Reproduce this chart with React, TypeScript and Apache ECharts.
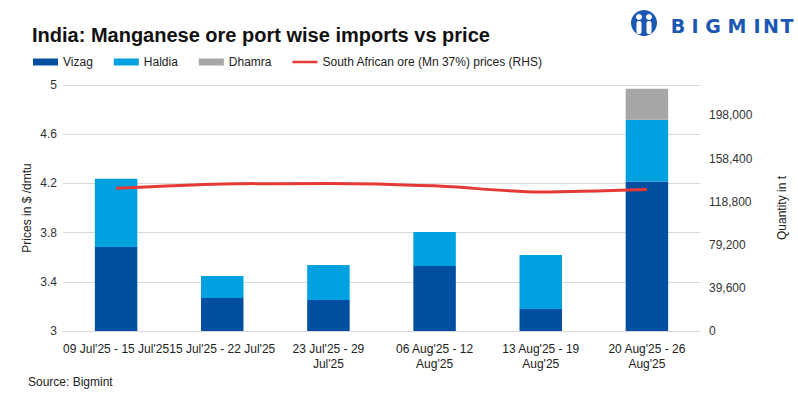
import React, { useEffect, useRef } from "react";
import * as echarts from "echarts";

const categories = [
  "09 Jul'25 - 15 Jul'25",
  "15 Jul'25 - 22 Jul'25",
  "23 Jul'25 - 29\nJul'25",
  "06 Aug'25 - 12\nAug'25",
  "13 Aug'25 - 19\nAug'25",
  "20 Aug'25 - 26\nAug'25",
];
const vizag = [77200, 30300, 28500, 59800, 20200, 137300];
const haldia = [62600, 20300, 32200, 31200, 49700, 56700];
const dhamra = [0, 0, 0, 0, 0, 28500];
const saPrice = [4.16, 4.195, 4.2, 4.18, 4.13, 4.15];

const FONT = "Liberation Sans";
const logoLetters = ["B", "I", "G", "M", "I", "N", "T"];

export default function App() {
  const ref = useRef<HTMLDivElement>(null);
  useEffect(() => {
    const chart = echarts.init(ref.current!, null, { renderer: "svg" });
    const logoBlue = "#1b57b3";
    chart.setOption({
      animation: false,
      textStyle: { fontFamily: FONT },
      title: {
        text: "India: Manganese ore port wise imports vs price",
        left: 27,
        top: 20,
        textStyle: { fontFamily: FONT, fontSize: 20, fontWeight: "bold", color: "#111" },
      },
      legend: {
        left: 28,
        top: 51,
        itemWidth: 25,
        itemHeight: 7,
        itemGap: 21,
        textStyle: { fontSize: 12, color: "#222", fontFamily: FONT },
        data: [
          { name: "Vizag", icon: "rect" },
          { name: "Haldia", icon: "rect" },
          { name: "Dhamra", icon: "rect" },
          {
            name: "South African ore (Mn 37%) prices (RHS)",
            icon: "path://M0,0L1,0L1,0.001ZM0,2L28,2L28,5L0,5ZM0,7L1,7L1,7.001Z",
          },
        ],
      },
      grid: { left: 63, right: 98, top: 85, bottom: 66 },
      xAxis: {
        type: "category",
        data: categories,
        axisLine: { lineStyle: { color: "#d9d9d9" } },
        axisTick: { show: false },
        axisLabel: { color: "#222", fontSize: 12, margin: 10, interval: 0, lineHeight: 15 },
      },
      yAxis: [
        {
          type: "value",
          min: 3,
          max: 5,
          interval: 0.4,
          name: "Prices in $ /dmtu",
          nameLocation: "middle",
          nameGap: 30,
          nameMoveOverlap: false,
          nameTextStyle: { fontSize: 12, color: "#222" },
          axisLine: { show: false },
          axisTick: { show: false },
          axisLabel: { color: "#333", fontSize: 12, margin: 6, formatter: (v: number) => String(+v.toFixed(1)) },
          splitLine: { lineStyle: { color: "#d9d9d9" } },
        },
        {
          type: "value",
          min: 0,
          max: 226000,
          interval: 39600,
          name: "Quantity in t",
          nameLocation: "middle",
          nameGap: 76,
          nameMoveOverlap: false,
          nameTextStyle: { fontSize: 12, color: "#222" },
          axisLine: { show: false },
          axisTick: { show: false },
          splitLine: { show: false },
          axisLabel: {
            color: "#333",
            fontSize: 12,
            margin: 9,
            formatter: (v: number) => (v > 200000 ? "" : v.toLocaleString("en-US")),
          },
        },
      ],
      series: [
        { name: "Vizag", type: "bar", stack: "q", yAxisIndex: 1, barWidth: "40%", data: vizag, itemStyle: { color: "#004fa0" } },
        { name: "Haldia", type: "bar", stack: "q", yAxisIndex: 1, data: haldia, itemStyle: { color: "#00a1e0" } },
        { name: "Dhamra", type: "bar", stack: "q", yAxisIndex: 1, data: dhamra, itemStyle: { color: "#a6a6a6" } },
        {
          name: "South African ore (Mn 37%) prices (RHS)",
          type: "line",
          yAxisIndex: 0,
          data: saPrice,
          symbol: "none",
          smooth: 0.3,
          z: 10,
          lineStyle: { color: "#e53935", width: 3 },
          itemStyle: { color: "#e53935" },
        },
      ],
      graphic: [
        { type: "text", left: 28, top: 376, style: { text: "Source: Bigmint", fontSize: 12, fill: "#222", fontFamily: FONT } },
        { type: "circle", shape: { cx: 644, cy: 23, r: 13 }, style: { fill: logoBlue } },
        { type: "circle", shape: { cx: 639, cy: 17, r: 3 }, style: { fill: "#fff" } },
        { type: "circle", shape: { cx: 649, cy: 17, r: 3 }, style: { fill: "#fff" } },
        { type: "rect", shape: { x: 636.5, y: 21, width: 5, height: 13, r: 2 }, style: { fill: "#fff" } },
        { type: "rect", shape: { x: 646.5, y: 21, width: 5, height: 13, r: 2 }, style: { fill: "#fff" } },
        { type: "rect", shape: { x: 642, y: 26, width: 4, height: 10 }, style: { fill: logoBlue } },
        ...logoLetters.map((ch, i) => ({
          type: "text",
          x: [678, 695, 713, 737, 757, 771, 787][i],
          y: 26,
          style: {
            text: ch,
            fontSize: 19,
            fontWeight: 900,
            fill: logoBlue,
            fontFamily: "DejaVu Sans",
            align: "center",
            verticalAlign: "middle",
          },
        })),
      ],
    });
    return () => chart.dispose();
  }, []);
  return <div ref={ref} style={{ position: "absolute", left: 0, top: 0, width: 798, height: 397 }} />;
}
